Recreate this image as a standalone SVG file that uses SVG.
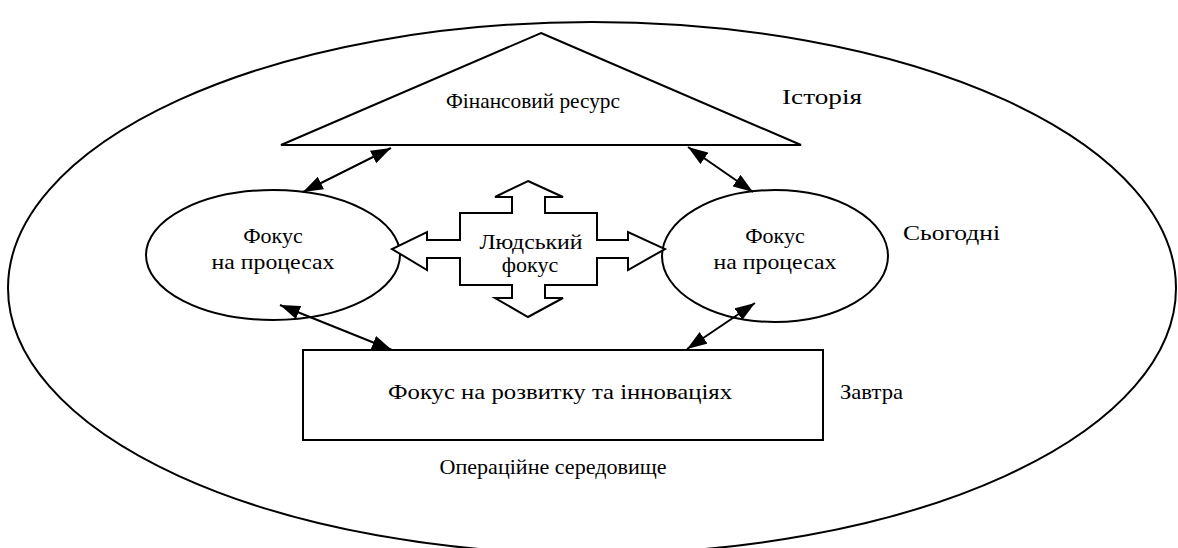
<svg xmlns="http://www.w3.org/2000/svg" width="1178" height="548" viewBox="0 0 1178 548">
<style>
.s{fill:#fff;stroke:#000;stroke-width:2}
.o{fill:none;stroke:#000;stroke-width:2}
text{font-family:'Liberation Serif','Times New Roman',serif;font-size:22px;fill:#000}
.t{text-anchor:middle}
.l{text-anchor:start}
.c{stroke:#000;stroke-width:2;fill:none;marker-start:url(#ah);marker-end:url(#ah)}
</style>
<defs>
<marker id="ah" viewBox="0 0 20 14" refX="20" refY="7" markerWidth="20" markerHeight="14" markerUnits="userSpaceOnUse" orient="auto-start-reverse">
<path d="M0,0 L20,7 L0,14 Z" fill="#000"/>
</marker>
</defs>
<rect width="1178" height="548" fill="#fff"/>
<g id="environment">
<ellipse class="o" cx="592" cy="288" rx="584" ry="266"/>
<text class="t" x="553" y="474" textLength="227" lengthAdjust="spacingAndGlyphs">Операційне середовище</text>
</g>
<g id="finance">
<polygon class="s" points="541,33 801,145 281,145"/>
<text class="t" x="533" y="108" textLength="174" lengthAdjust="spacingAndGlyphs">Фінансовий ресурс</text>
</g>
<g id="labels">
<text class="l" x="782" y="104" textLength="80" lengthAdjust="spacingAndGlyphs">Історія</text>
<text class="l" x="903" y="240" textLength="97" lengthAdjust="spacingAndGlyphs">Сьогодні</text>
<text class="l" x="840" y="399" textLength="63" lengthAdjust="spacingAndGlyphs">Завтра</text>
</g>
<g id="process-left">
<ellipse class="s" cx="273" cy="255" rx="127" ry="65"/>
<text class="t" x="273" y="243">Фокус</text>
<text class="t" x="273" y="269" textLength="123" lengthAdjust="spacingAndGlyphs">на процесах</text>
</g>
<g id="process-right">
<ellipse class="s" cx="775" cy="256" rx="113" ry="66"/>
<text class="t" x="775" y="243">Фокус</text>
<text class="t" x="775" y="269" textLength="123" lengthAdjust="spacingAndGlyphs">на процесах</text>
</g>
<g id="human">
<polygon class="s" points="528,181 563,197 545,197 545,213 597,213 597,240 628,240 628,232 665,249 628,270 628,258 597,258 597,285 545,285 545,298 563,298 528,317 495,298 512,298 512,285 460,285 460,258 427,258 427,270 392,249 427,232 427,240 460,240 460,213 512,213 512,197 495,197"/>
<text class="t" x="531" y="249" textLength="103" lengthAdjust="spacingAndGlyphs">Людський</text>
<text class="t" x="530" y="272">фокус</text>
</g>
<g id="development">
<rect class="s" x="303" y="350" width="520" height="90"/>
<text class="t" x="560" y="399" textLength="344" lengthAdjust="spacingAndGlyphs">Фокус на розвитку та інноваціях</text>
</g>
<g id="connectors">
<line class="c" x1="391" y1="148" x2="303" y2="192"/>
<line class="c" x1="688" y1="147" x2="753" y2="192"/>
<line class="c" x1="280" y1="305" x2="392" y2="350"/>
<line class="c" x1="755" y1="303" x2="687" y2="349"/>
</g>
</svg>
